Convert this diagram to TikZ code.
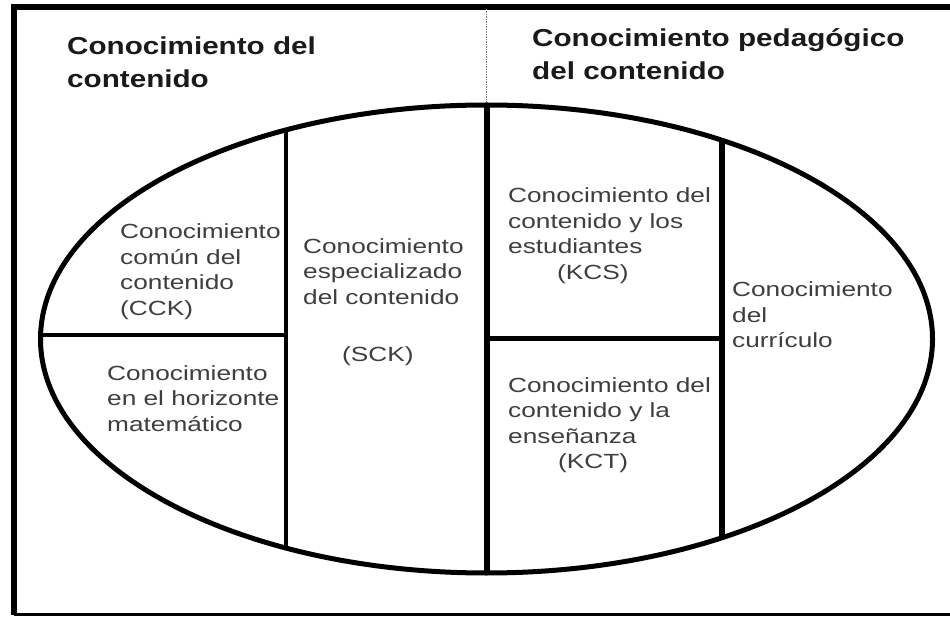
\documentclass[tikz,border=0pt]{standalone}
\usepackage{fontspec}
\newfontfamily\titlefont[FakeStretch=1.21]{Liberation Sans}
\newfontfamily\bodyfont[FakeStretch=1.28]{Liberation Sans}
\definecolor{bodytext}{RGB}{62,62,62}
\definecolor{titletext}{RGB}{26,26,26}
\definecolor{dotgray}{RGB}{120,120,120}
\begin{document}
\begin{tikzpicture}[x=1pt,y=-1pt,
  titletext/.style={anchor=base west, inner sep=0pt, align=left, text=titletext,
    font=\titlefont\bfseries\fontsize{24.5}{33}\selectfont},
  bodylabel/.style={anchor=base west, inner sep=0pt, align=left, text=bodytext,
    font=\bodyfont\fontsize{20.5}{25.5}\selectfont},
  divthick/.style={line width=5.5pt},
  divthin/.style={line width=4pt},
  frameline/.style={line width=6pt, line join=miter}]
\useasboundingbox (0,0) rectangle (950,617);

% outer frame (right side runs off the picture)
\coordinate (frTR) at (955,7);
\coordinate (frTL) at (13.5,7);
\coordinate (frBL) at (13.5,614.5);
\coordinate (frBR) at (955,614.5);
\draw[frameline] (frTR) -- (frTL) -- (frBL);
\draw[line width=3pt] (frBL) -- (frBR);

% dotted separator above the oval
\coordinate (dotTop) at (486,9);
\coordinate (dotBot) at (486,103);
\draw[dotgray, line width=0.9pt, dash pattern=on 1.2pt off 1.3pt] (dotTop) -- (dotBot);

% oval
\draw[line width=5pt] (486.5,339) ellipse [x radius=446, y radius=234];

% dividers
\coordinate (cTop) at (487,105);
\coordinate (cBot) at (487,573);
\coordinate (lTop) at (285.5,130.1);
\coordinate (lBot) at (285.5,547.9);
\coordinate (lLeft) at (40.6,335);
\coordinate (lMid) at (285.5,335);
\coordinate (rTop) at (722,140.3);
\coordinate (rBot) at (722,537.7);
\coordinate (cMid) at (487,338.5);
\coordinate (rMid) at (722,338.5);
\draw[divthick] (cTop) -- (cBot);
\draw[divthin] (lTop) -- (lBot);
\draw[divthin] (lLeft) -- (lMid);
\draw[divthick] (rTop) -- (rBot);
\draw[divthick] (cMid) -- (rMid);

% titles (anchored at the baseline of their last line)
\node[titletext] (t1) at (67,88) {Conocimiento del\\contenido};
\node[titletext] (t2) at (532,80) {Conocimiento pedagógico\\del contenido};

% region labels (anchored at the baseline of their last line)
\node[bodylabel] (cck) at (120,315.5) {Conocimiento\\común del\\contenido\\(CCK)};
\node[bodylabel] (hor) at (107,431) {Conocimiento\\en el horizonte\\matemático};
\node[bodylabel] (sck) at (303,362) {Conocimiento\\especializado\\del contenido\\[32pt]\hspace*{39pt}(SCK)};
\node[bodylabel] (kcs) at (508,279.5) {Conocimiento del\\contenido y los\\estudiantes\\\hspace*{49pt}(KCS)};
\node[bodylabel] (kct) at (508,468.5) {Conocimiento del\\contenido y la\\enseñanza\\\hspace*{50pt}(KCT)};
\node[bodylabel] (cur) at (732,348) {Conocimiento\\del\\currículo};
\end{tikzpicture}
\end{document}
